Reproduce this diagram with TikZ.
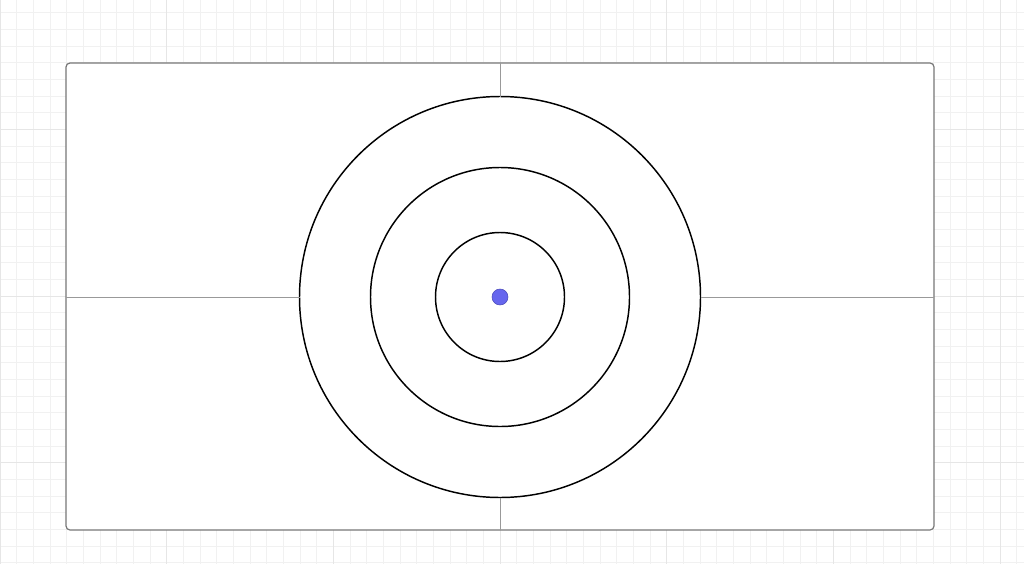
\documentclass[tikz,border=0pt]{standalone}
\usetikzlibrary{calc}
\definecolor{gridc}{HTML}{F1F1F1}
\definecolor{gridmajor}{HTML}{E6E6E6}
\definecolor{framec}{HTML}{777777}
\definecolor{crossc}{HTML}{999999}
\definecolor{dotfill}{HTML}{6666EE}
\definecolor{dotline}{HTML}{4A4AB8}
\tikzset{
  gridline/.style={draw=gridc, line width=0.7pt},
  gridmajorline/.style={draw=gridmajor, line width=0.7pt},
  frame/.style={draw=framec, fill=white, line width=0.9pt, rounded corners=3pt,
    minimum width=651pt, minimum height=350.25pt, inner sep=0pt, outer sep=0pt},
  ring/.style={circle, draw=black, line width=1.1pt, inner sep=0pt, outer sep=0pt},
  crossline/.style={draw=crossc, line width=0.7pt},
  centerdot/.style={circle, fill=dotfill, draw=dotline, line width=0.4pt,
    minimum size=12pt, inner sep=0pt}
}
\begin{document}
\begin{tikzpicture}[x=0.75pt,y=-0.75pt]
\useasboundingbox (0,0) rectangle (1024,564);
\fill[white] (0,0) rectangle (1024,564);
% background grid (minor)
\foreach \i in {-30,...,31} {
  \draw[gridline] ({500+16.667*\i},0) -- ({500+16.667*\i},564);
}
\foreach \j in {-17,...,16} {
  \draw[gridline] (0,{296+16.667*\j}) -- (1024,{296+16.667*\j});
}
% background grid (major)
\foreach \i in {-3,...,3} {
  \draw[gridmajorline] ({500+166.67*\i},0) -- ({500+166.67*\i},564);
}
\foreach \j in {-1,0,1} {
  \draw[gridmajorline] (0,{296+166.67*\j}) -- (1024,{296+166.67*\j});
}
% frame
\node[frame] (frame) at (500,296.5) {};
% rings
\node[ring, minimum size=300.75pt] (outer) at (500,297) {};
\node[ring, minimum size=194.25pt] (middle) at (500,297) {};
\node[ring, minimum size=96.75pt] (inner) at (500,297) {};
% cross lines
\draw[crossline] (frame.west |- outer.center) -- (outer.west);
\draw[crossline] (outer.east) -- (frame.east |- outer.center);
\draw[crossline] (frame.north -| outer.center) -- (outer.north);
\draw[crossline] (outer.south) -- (frame.south -| outer.center);
% center dot
\node[centerdot] (dot) at (outer.center) {};
\end{tikzpicture}
\end{document}
